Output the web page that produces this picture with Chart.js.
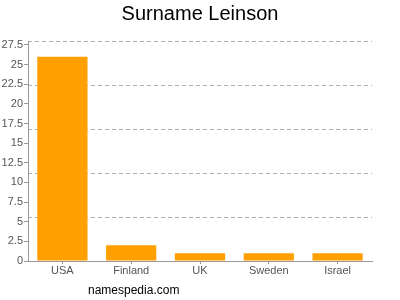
<!DOCTYPE html>
<html>
<head>
<meta charset="utf-8">
<script src="https://cdn.jsdelivr.net/npm/chart.js@4"></script>
<style>
  body { margin: 0; background: #fff; }
  #wrap { width: 400px; height: 300px; position: relative; }
</style>
</head>
<body>
<div id="wrap"><canvas id="surnameChart"></canvas></div>
<script>
const countries = ["USA", "Finland", "UK", "Sweden", "Israel"];
const counts = [26, 2, 1, 1, 1];
const yTicks = [0, 2.5, 5, 7.5, 10, 12.5, 15, 17.5, 20, 22.5, 25, 27.5];
const yMax = 28;
const gridStep = 5.6;

//footer text drawn under the chart
const footerText = {
  id: "footerText",
  afterDraw(chart) {
    const ctx = chart.ctx;
    ctx.save();
    ctx.font = "12px 'Liberation Sans', Arial, sans-serif";
    ctx.fillStyle = "#000";
    ctx.textBaseline = "middle";
    ctx.fillText("namespedia.com", 88, 291);
    ctx.restore();
  },
};

const ctx = document.getElementById("surnameChart");

new Chart(ctx, {
  type: "bar",
  data: {
    labels: countries,
    datasets: [
      {
        data: counts,
        backgroundColor: "#ffa000",
        barPercentage: 0.73,
        categoryPercentage: 1,
      },
    ],
  },
  options: {
    responsive: true,
    maintainAspectRatio: false,
    animation: false,
    layout: { padding: 0 },
    plugins: {
      legend: { display: false },
      tooltip: { enabled: false },
      title: {
        display: true,
        text: "Surname Leinson",
        color: "#000",
        font: { family: "'Liberation Sans', Arial, sans-serif", size: 20, weight: "normal" },
        padding: { top: 2, bottom: 15 },
      },
    },
    scales: {
      x: {
        grid: { display: true, drawOnChartArea: false, offset: false, tickLength: 3, color: "#999" },
        border: { color: "#999" },
        ticks: {
          color: "#555",
          font: { family: "'Liberation Sans', Arial, sans-serif", size: 11 },
          padding: 0,
        },
        afterFit: (axis) => { axis.height = 39; },
      },
      y: {
        min: 0,
        max: yMax,
        border: { color: "#999" },
        grid: { drawOnChartArea: false, tickLength: 4, color: "#999" },
        ticks: {
          color: "#555",
          font: { family: "'Liberation Sans', Arial, sans-serif", size: 11 },
          padding: 1,
        },
        afterBuildTicks: (axis) => { axis.ticks = yTicks.map((v) => ({ value: v })); },
        afterFit: (axis) => { axis.width = 28; },
      },
      //dashed grid lines, evenly split, independent of the labels
      yGrid: {
        position: "right",
        min: 0,
        max: yMax,
        border: { display: false, dash: [4, 3] },
        grid: { color: "#b0b0b0", tickLength: 0, drawTicks: false },
        ticks: { stepSize: gridStep, display: false },
        afterFit: (axis) => { axis.width = 28; },
      },
    },
  },
  plugins: [footerText],
});
</script>
</body>
</html>
